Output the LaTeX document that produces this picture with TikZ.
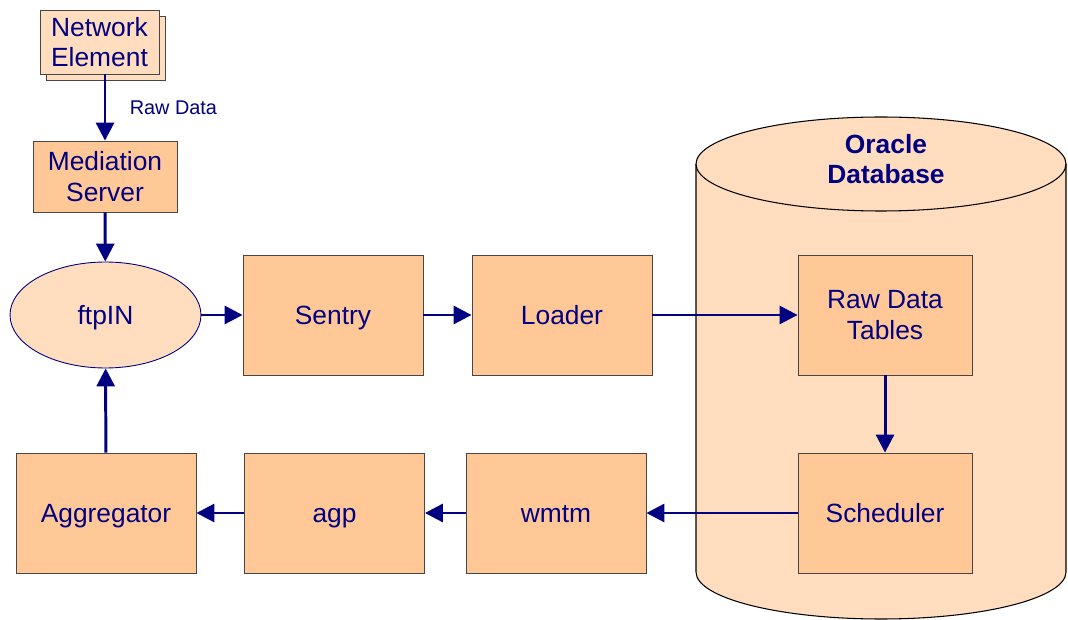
\documentclass[tikz,border=0pt]{standalone}
\usepackage{fontspec}
\setmainfont{Liberation Sans}
\usepackage{tikz}
\usetikzlibrary{arrows.meta, positioning, shadows, shapes.geometric}

\definecolor{navyline}{RGB}{0,0,128}
\definecolor{boxfill}{RGB}{255,200,150}
\definecolor{lightfill}{RGB}{255,221,190}
\definecolor{boxedge}{RGB}{70,70,70}

\begin{document}
\begin{tikzpicture}[x=0.02cm, y=0.02cm,
    every node/.style={font=\fontsize{15}{17.5}\selectfont, text=navyline, align=center},
    stagebox/.style={draw=boxedge, line width=0.5pt, fill=boxfill,
      minimum width=3.6cm, minimum height=2.4cm, inner sep=0pt},
    oneline/.style={text height=10.8pt, text depth=0pt},
    flow/.style={-{Triangle[length=0.36cm, width=0.36cm]}, navyline, line width=1.7pt}]
  \useasboundingbox (0,0) rectangle (1068,619);

  % Oracle cylinder --------------------------------------------------------
  \def\cylL{696}
  \def\cylR{1066}
  \def\ry{47}
  \filldraw[fill=lightfill, draw=black, line width=0.6pt]
    (\cylL,455) -- (\cylL,47)
    arc[start angle=180, end angle=360, x radius=185, y radius=\ry]
    -- (\cylR,455)
    arc[start angle=0, end angle=180, x radius=185, y radius=\ry];
  \draw[black, line width=0.6pt]
    (\cylL,455) arc[start angle=180, end angle=360, x radius=185, y radius=\ry];
  \node[font=\fontsize{15}{17.5}\selectfont\bfseries] (oracle) at (886,460)
    {Oracle\\Database};

  % Top chain --------------------------------------------------------------
  \node[draw=boxedge, line width=0.5pt, fill=lightfill, minimum width=2.38cm,
        minimum height=1.28cm, inner sep=0pt,
        copy shadow={shadow xshift=0.13cm, shadow yshift=-0.13cm}]
    (netelem) at (99.5,577) {Network\\Element};
  \node[stagebox, minimum width=2.88cm, minimum height=1.42cm]
    (mediation) at (105,442.5) {Mediation\\Server};
  \node[ellipse, oneline, draw=navyline, line width=0.5pt, fill=lightfill,
        minimum width=3.82cm, minimum height=2.12cm, inner sep=0pt]
    (ftpin) at (105.5,304) {ftpIN};

  % Middle row -------------------------------------------------------------
  \node[stagebox, oneline] (sentry) at (333,304) {Sentry};
  \node[stagebox, oneline] (loader) at (562,304) {Loader};
  \node[stagebox, minimum width=3.48cm] (rawtables) at (885,304) {Raw Data\\Tables};

  % Bottom row -------------------------------------------------------------
  \node[stagebox, oneline, minimum width=3.48cm] (scheduler) at (885,106) {Scheduler};
  \node[stagebox, oneline] (wmtm) at (556,106) {wmtm};
  \node[stagebox, oneline] (agp) at (334.5,106) {agp};
  \node[stagebox, oneline] (aggregator) at (106,106) {Aggregator};

  % Connectors -------------------------------------------------------------
  \draw[flow] (netelem.south -| mediation) -- (mediation.north)
    node[midway, right=0.35cm, font=\fontsize{11.3}{13}\selectfont] {Raw Data};
  \draw[flow] (mediation) -- (ftpin);
  \draw[flow] (ftpin) -- (sentry);
  \draw[flow] (sentry) -- (loader);
  \draw[flow] (loader) -- (rawtables);
  \draw[flow] (rawtables) -- (scheduler);
  \draw[flow] (scheduler) -- (wmtm);
  \draw[flow] (wmtm) -- (agp);
  \draw[flow] (agp) -- (aggregator);
  \draw[flow] (aggregator) -- (ftpin);

\end{tikzpicture}
\end{document}
